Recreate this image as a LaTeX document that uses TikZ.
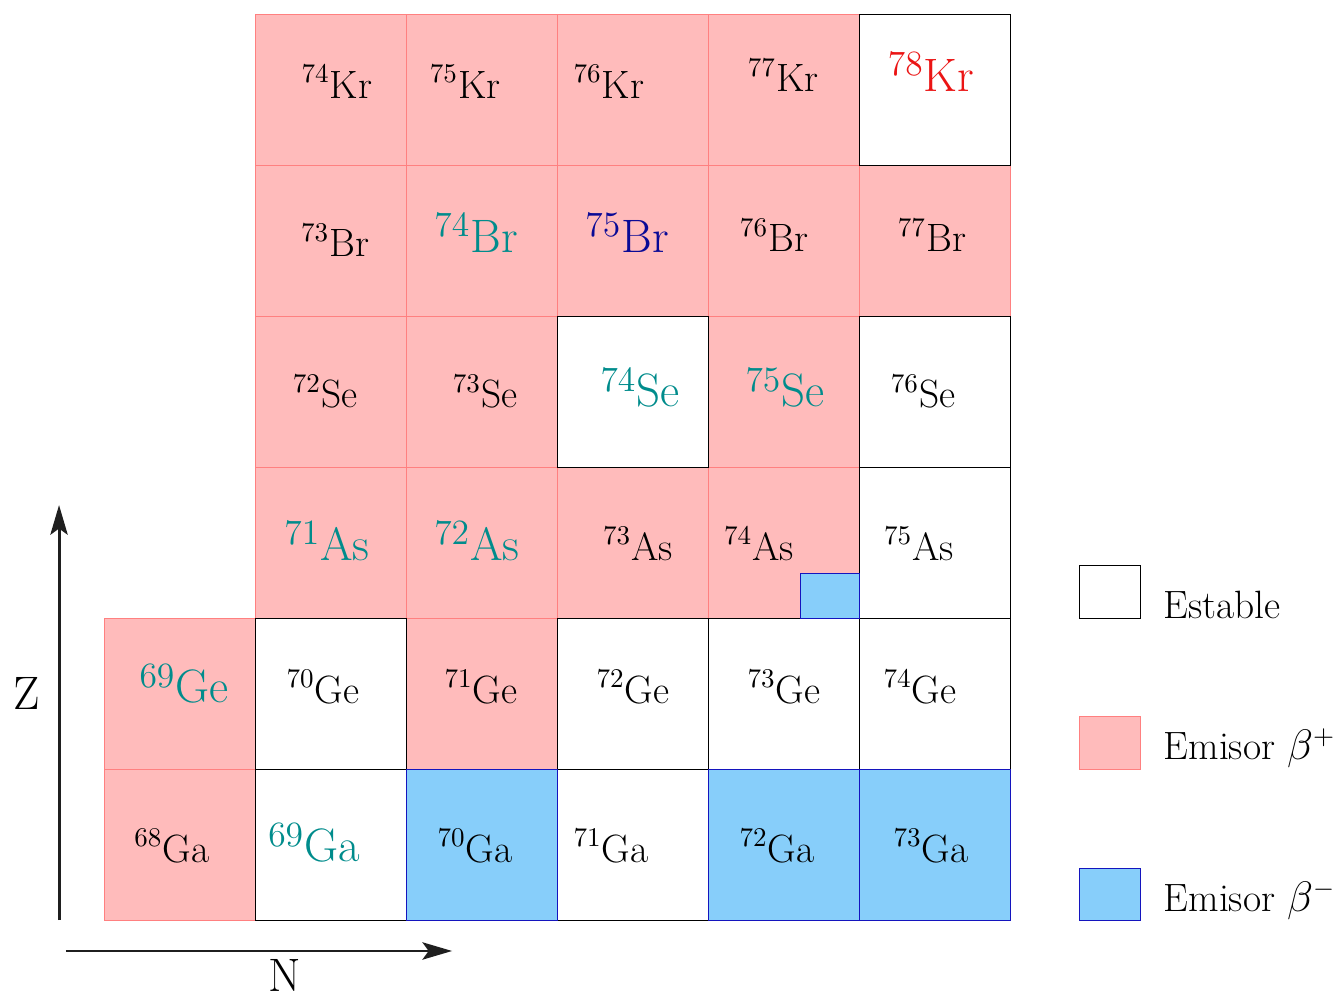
\documentclass[tikz,border=0pt]{standalone}
\usepackage{tikz}
\usetikzlibrary{arrows.meta,positioning}
\usepackage{xcolor}
\definecolor{posfill}{RGB}{255,187,187}
\definecolor{posline}{RGB}{255,128,128}
\definecolor{negfill}{RGB}{135,206,250}
\definecolor{negline}{RGB}{20,20,190}
\definecolor{tealtxt}{RGB}{0,140,140}
\definecolor{bluetxt}{RGB}{10,10,150}
\definecolor{redtxt}{RGB}{235,20,20}
\tikzset{
  poscell/.style={fill=posfill, draw=posline},
  negcell/.style={fill=negfill, draw=negline},
  stabcell/.style={fill=white, draw=black},
  iso/.style={font=\fontsize{16}{19}\selectfont, inner sep=1pt},
  isoc/.style={font=\fontsize{19}{23}\selectfont, inner sep=1pt},
  legtxt/.style={font=\fontsize{16}{19}\selectfont, anchor=west},
  axlab/.style={font=\fontsize{19}{23}\selectfont, inner sep=0pt},
  arr/.style={-{Stealth[length=12pt,width=7pt,inset=2.5pt]}, line width=1.2pt, color=black!88},
}

\begin{document}
\begin{tikzpicture}[x=2.15cm,y=2.15cm]
    \useasboundingbox (-0.689,-0.523) rectangle (8.172,6.093);
    % cells
    \foreach \c/\r in {0/0,0/1,2/1,1/2,2/2,3/2,4/2,1/3,2/3,4/3,1/4,2/4,3/4,4/4,5/4,1/5,2/5,3/5,4/5}
      \draw[poscell] (\c,\r) rectangle ++(1,1);
    \foreach \c/\r in {1/0,3/0,1/1,3/1,4/1,5/1,5/2,3/3,5/3,5/5}
      \draw[stabcell] (\c,\r) rectangle ++(1,1);
    \foreach \c/\r in {2/0,4/0,5/0}
      \draw[negcell] (\c,\r) rectangle ++(1,1);
    \draw[negcell] (4.609,2) rectangle (5,2.298);
    % Kr
    \node[iso] (kr74) at (1.543,5.550) {$^{74}$Kr};
    \node[iso] (kr75) at (2.391,5.550) {$^{75}$Kr};
    \node[iso] (kr76) at (3.344,5.550) {$^{76}$Kr};
    \node[iso] (kr77) at (4.497,5.596) {$^{77}$Kr};
    \node[isoc,redtxt] (kr78) at (5.477,5.616) {$^{78}$Kr};
    % Br
    \node[iso] (br73) at (1.530,4.503) {$^{73}$Br};
    \node[isoc,tealtxt] (br74) at (2.464,4.550) {$^{74}$Br};
    \node[isoc,bluetxt] (br75) at (3.464,4.550) {$^{75}$Br};
    \node[iso] (br76) at (4.437,4.536) {$^{76}$Br};
    \node[iso] (br77) at (5.483,4.536) {$^{77}$Br};
    % Se
    \node[iso] (se72) at (1.464,3.498) {$^{72}$Se};
    \node[iso] (se73) at (2.523,3.498) {$^{73}$Se};
    \node[isoc,tealtxt] (se74) at (3.550,3.523) {$^{74}$Se};
    \node[isoc,tealtxt] (se75) at (4.510,3.523) {$^{75}$Se};
    \node[iso] (se76) at (5.424,3.498) {$^{76}$Se};
    % As
    \node[isoc,tealtxt] (as71) at (1.477,2.510) {$^{71}$As};
    \node[isoc,tealtxt] (as72) at (2.470,2.510) {$^{72}$As};
    \node[iso] (as73) at (3.536,2.490) {$^{73}$As};
    \node[iso] (as74) at (4.338,2.490) {$^{74}$As};
    \node[iso] (as75) at (5.397,2.490) {$^{75}$As};
    % Ge
    \node[isoc,tealtxt] (ge69) at (0.530,1.563) {$^{69}$Ge};
    \node[iso] (ge70) at (1.450,1.543) {$^{70}$Ge};
    \node[iso] (ge71) at (2.497,1.543) {$^{71}$Ge};
    \node[iso] (ge72) at (3.503,1.543) {$^{72}$Ge};
    \node[iso] (ge73) at (4.503,1.543) {$^{73}$Ge};
    \node[iso] (ge74) at (5.404,1.543) {$^{74}$Ge};
    % Ga
    \node[iso] (ga68) at (0.450,0.490) {$^{68}$Ga};
    \node[isoc,tealtxt] (ga69) at (1.391,0.510) {$^{69}$Ga};
    \node[iso] (ga70) at (2.457,0.490) {$^{70}$Ga};
    \node[iso] (ga71) at (3.358,0.490) {$^{71}$Ga};
    \node[iso] (ga72) at (4.457,0.490) {$^{72}$Ga};
    \node[iso] (ga73) at (5.477,0.490) {$^{73}$Ga};
    % legend
    \draw[stabcell] (6.457,2) rectangle (6.861,2.351);
    \draw[poscell] (6.457,1) rectangle (6.861,1.351);
    \draw[negcell] (6.457,0) rectangle (6.861,0.344);
    \node[legtxt] (leg1) at (6.96,2.086) {Estable};
    \node[legtxt] (leg2) at (6.96,1.139) {Emisor $\beta^{+}$};
    \node[legtxt] (leg3) at (6.96,0.132) {Emisor $\beta^{-}$};
    % axes
    \coordinate (zfrom) at (-0.298,0);
    \coordinate (zto) at (-0.298,2.748);
    \coordinate (nfrom) at (-0.252,-0.205);
    \coordinate (nto) at (2.305,-0.205);
    \draw[arr] (zfrom) -- (zto);
    \draw[arr] (nfrom) -- (nto);
    \node[axlab] (zlab) at (-0.51,1.503) {Z};
    \node[axlab] (nlab) at (1.199,-0.37) {N};
\end{tikzpicture}
\end{document}
